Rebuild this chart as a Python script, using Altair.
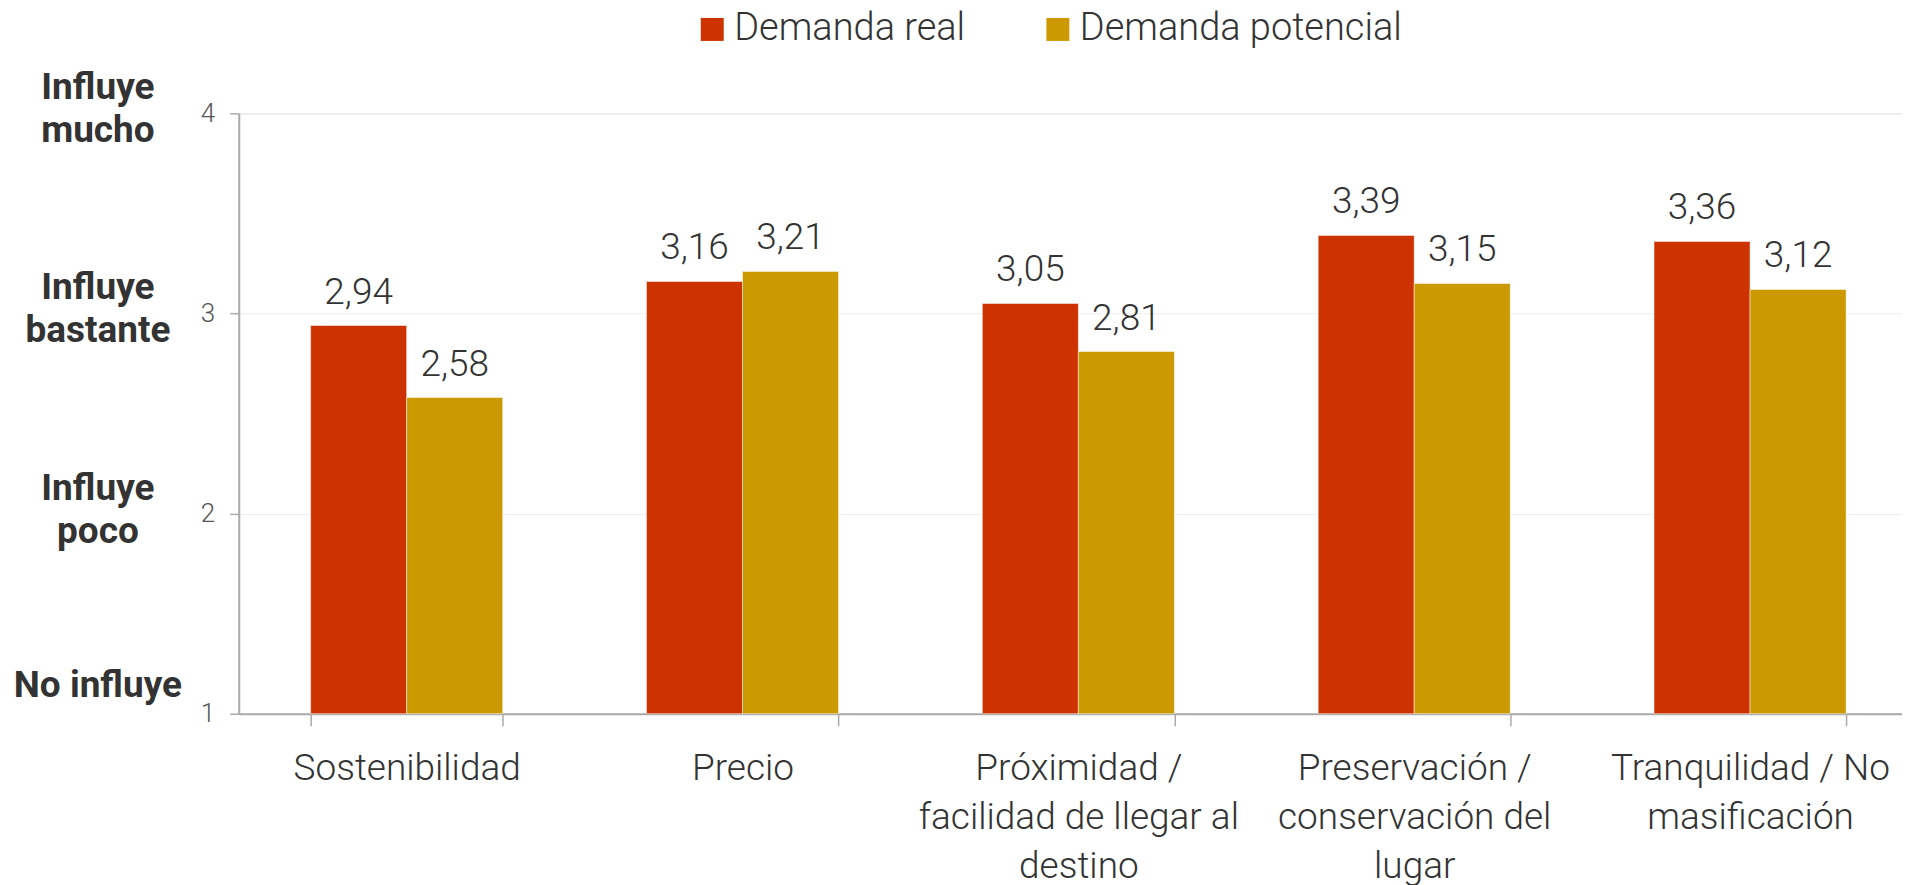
import altair as alt
import pandas as pd

categories = [
    "Sostenibilidad",
    "Precio",
    "Próximidad /\nfacilidad de llegar al\ndestino",
    "Preservación /\nconservación del\nlugar",
    "Tranquilidad / No\nmasificación",
]
series = ["Demanda real", "Demanda potencial"]
real = [2.94, 3.16, 3.05, 3.39, 3.36]
potencial = [2.58, 3.21, 2.81, 3.15, 3.12]
colors = ["#CC3300", "#CC9900"]

scale_levels = [4, 3, 2]
scale_names = ["Influye\nmucho", "Influye\nbastante", "Influye\npoco"]
bottom_level = [1]
bottom_name = ["No influye"]

rows = []
for c, r, p in zip(categories, real, potencial):
    rows.append({"cat": c, "series": series[0], "value": r, "label": f"{r:.2f}".replace(".", ",")})
    rows.append({"cat": c, "series": series[1], "value": p, "label": f"{p:.2f}".replace(".", ",")})
df = pd.DataFrame(rows)

df_levels = pd.DataFrame({"value": scale_levels, "name": scale_names})
df_bottom = pd.DataFrame({"value": bottom_level, "name": bottom_name})

x_enc = alt.X(
    "cat:N",
    sort=categories,
    scale=alt.Scale(range=[0, 1681], paddingInner=0.428, paddingOuter=0.214),
    axis=alt.Axis(
        title=None,
        labelExpr="split(datum.label, '\\n')",
        labelFont="Roboto",
        labelFontSize=37,
        labelFontWeight=300,
        labelColor="#333333",
        labelLineHeight=49,
        labelPadding=25,
        labelAngle=0,
        labelLimit=0,
        tickSize=12,
        tickBand="extent",
        tickColor="#aaaaaa",
        tickWidth=1.5,
        domainColor="#aaaaaa",
        domainWidth=2,
        grid=False,
    ),
)
y_enc = alt.Y(
    "value:Q",
    scale=alt.Scale(domain=[1, 4], nice=False, zero=False),
    axis=alt.Axis(
        title=None,
        values=[1, 2, 3, 4],
        format="d",
        labelFont="Roboto",
        labelFontSize=26,
        labelFontWeight=300,
        labelColor="#555555",
        labelPadding=15,
        tickSize=9,
        tickColor="#aaaaaa",
        tickWidth=1.5,
        domainColor="#aaaaaa",
        domainWidth=2,
        gridColor="#eeeeee",
        gridWidth=1,
    ),
)

base = alt.Chart(df).encode(
    x=x_enc,
    xOffset=alt.XOffset("series:N", sort=series),
    y=y_enc,
)

bars = base.mark_bar(stroke="white", strokeWidth=1, strokeOpacity=0.5).encode(
    y2=alt.datum(1),
    color=alt.Color(
        "series:N",
        sort=series,
        scale=alt.Scale(domain=series, range=colors),
        legend=alt.Legend(
            title=None,
            orient="none",
            legendX=455,
            legendY=-103,
            direction="horizontal",
            symbolType="square",
            symbolSize=529,
            symbolStrokeWidth=0,
            labelFont="Roboto",
            labelFontSize=38,
            labelFontWeight=300,
            labelColor="#333333",
            labelOffset=3,
            columnPadding=73,
            labelLimit=0,
        ),
    ),
)

labels = base.mark_text(
    font="Roboto", fontSize=37, fontWeight=300, color="#333333", dy=-22, baseline="alphabetic"
).encode(text="label:N")

level_text = alt.Chart(df_levels).mark_text(
    align="center", baseline="middle", lineBreak="\n", font="Roboto",
    fontSize=37, fontWeight="bold", color="#333333", lineHeight=43, dy=-25,
).encode(x=alt.value(-141), y=alt.Y("value:Q"), text="name:N")

bottom_text = alt.Chart(df_bottom).mark_text(
    align="center", baseline="middle", font="Roboto",
    fontSize=37, fontWeight="bold", color="#333333", dy=-28,
).encode(x=alt.value(-141), y=alt.Y("value:Q"), text="name:N")

chart = alt.layer(bars, labels, level_text, bottom_text).properties(
    width=1665,
    height=601,
    autosize="none",
    padding={"left": 231, "top": 105, "right": 0, "bottom": 171},
).configure_view(stroke=None).configure(font="Roboto")

chart.save("out.html", embed_options={"renderer": "svg", "actions": False})
